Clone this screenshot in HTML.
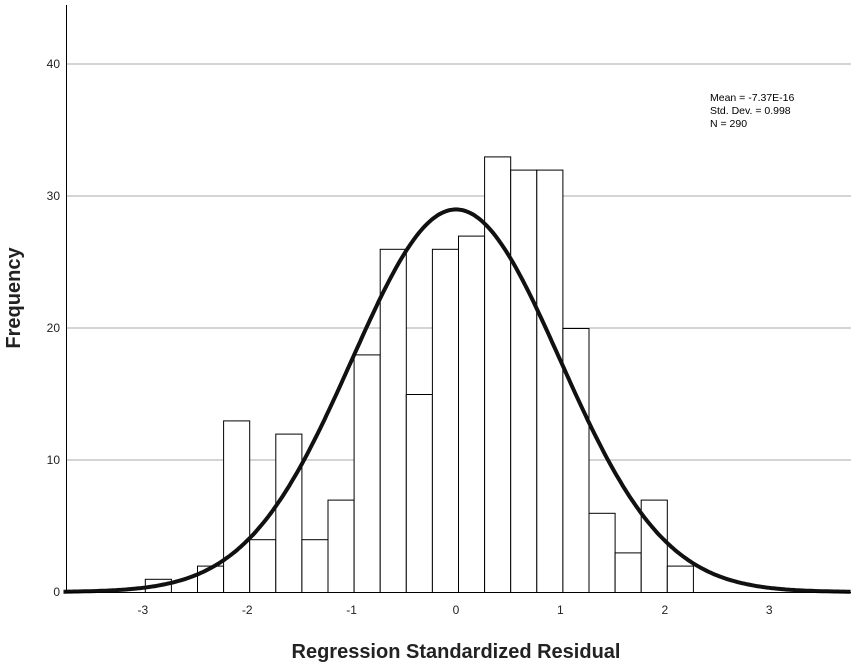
<!DOCTYPE html>
<html><head><meta charset="utf-8"><style>
html,body{margin:0;padding:0;background:#fff;}
svg{display:block;font-family:"Liberation Sans",Arial,sans-serif;}
</style></head><body>
<svg id="chart" width="851" height="666" viewBox="0 0 851 666">
<g id="grid"></g>
<g id="bars"></g>
<g id="curve"></g>
<g id="axes"></g>
<text x="0" y="0" transform="translate(20,298) rotate(-90)" text-anchor="middle" font-size="20" font-weight="bold" fill="#222">Frequency</text>
<text x="456" y="658" text-anchor="middle" font-size="20" font-weight="bold" fill="#222">Regression Standardized Residual</text>
<g font-size="10.5" fill="#000">
<text x="710" y="101">Mean = -7.37E-16</text>
<text x="710" y="114">Std. Dev. = 0.998</text>
<text x="710" y="127">N = 290</text>
</g>
</svg>
<script>
const binStarts = [-3.0,-2.75,-2.5,-2.25,-2.0,-1.75,-1.5,-1.25,-1.0,-0.75,-0.5,-0.25,0,0.25,0.5,0.75,1.0,1.25,1.5,1.75,2.0];
const frequencies = [1,0,2,13,4,12,4,7,18,26,15,26,27,33,32,32,20,6,3,7,2];
const binWidth = 0.25;
const xTicks = [-3,-2,-1,1,2,3,0];
const yTicks = [0,10,20,30,40];
const stats = {mean:-7.37e-16, sd:0.998, n:290};

const NS="http://www.w3.org/2000/svg";
const X0=456, XS=104.4, Y0=592, YS=13.2, BAR_OFF=2;
const xs=v=>X0+v*XS, ys=v=>Y0-v*YS;
function mk(tag,attrs,parent){const e=document.createElementNS(NS,tag);for(const k in attrs)e.setAttribute(k,attrs[k]);parent.appendChild(e);return e;}
const grid=document.getElementById('grid'),bars=document.getElementById('bars'),curve=document.getElementById('curve'),axes=document.getElementById('axes');

yTicks.forEach(t=>{
  if(t>0){const l=mk('line',{x1:66,x2:851,y1:ys(t),y2:ys(t),stroke:'#a8a8a8','stroke-width':1},grid);
  
  }
  const tx=mk('text',{x:60,y:ys(t)+4,'text-anchor':'end','font-size':12,fill:'#222'},axes);
  tx.textContent=t;
  
  
});
xTicks.forEach(t=>{
  const tx=mk('text',{x:xs(t),y:614,'text-anchor':'middle','font-size':12,fill:'#222'},axes);
  tx.textContent=t;
  
  
});
frequencies.forEach((f,i)=>{
  if(f<=0)return;
  const x1=xs(binStarts[i])+BAR_OFF,x2=xs(binStarts[i]+binWidth)+BAR_OFF;
  const r=mk('rect',{x:x1+0.5,y:ys(f)+0.5,width:x2-x1,height:Y0-ys(f),fill:'#fff',stroke:'#000','stroke-width':1},bars);
  
  
});
let d='';
for(let v=-3.76;v<=3.8;v+=0.02){
  const y=stats.n*binWidth*Math.exp(-0.5*Math.pow((v-stats.mean)/stats.sd,2))/(stats.sd*Math.sqrt(2*Math.PI));
  d+=(d?'L':'M')+xs(v).toFixed(1)+','+ys(y).toFixed(1);
}
const p=mk('path',{d:d,fill:'none',stroke:'#111','stroke-width':4},curve);


const ya=mk('line',{x1:66.5,x2:66.5,y1:5,y2:593,stroke:'#000','stroke-width':1},axes);


const xa=mk('line',{x1:66,x2:851,y1:592.5,y2:592.5,stroke:'#000','stroke-width':1},axes);


</script>
</body></html>
